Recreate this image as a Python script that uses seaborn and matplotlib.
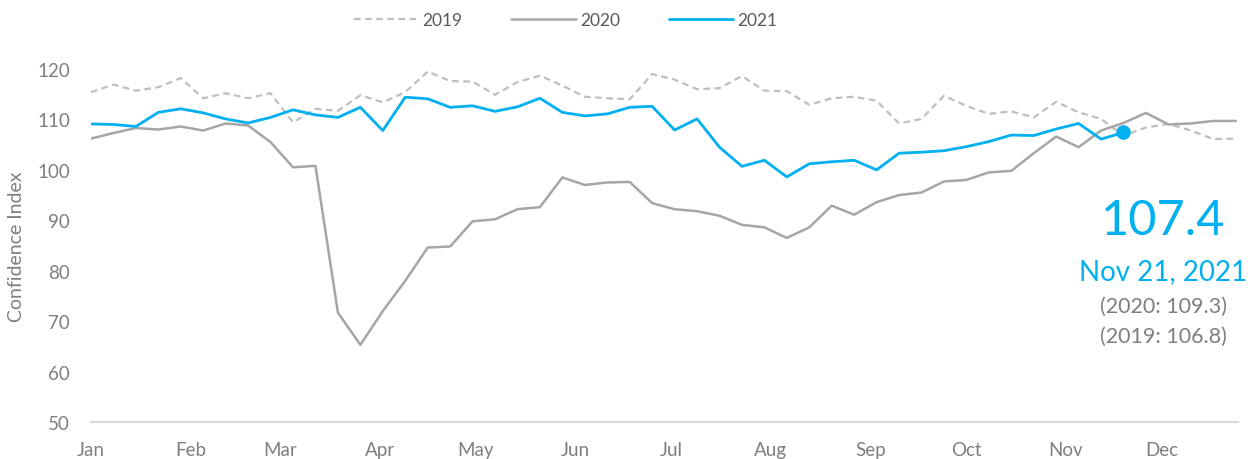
import matplotlib
matplotlib.use("Agg")
import matplotlib.pyplot as plt
import seaborn as sns
import numpy as np
import pandas as pd

# ---- data (weekly index values) ----
month_labels = ["Jan", "Feb", "Mar", "Apr", "May", "Jun", "Jul", "Aug", "Sep", "Oct", "Nov", "Dec"]
month_start_days = [0, 31, 59, 90, 120, 151, 181, 212, 243, 273, 304, 334]

values_2019 = [115.4, 116.9, 115.7, 116.4, 118.2, 114.2, 115.2, 114.2, 115.2, 109.4,
               112.1, 111.7, 114.8, 113.4, 115.4, 119.5, 117.6, 117.5, 114.9, 117.4,
               118.7, 116.7, 114.5, 114.2, 114.0, 119.0, 117.9, 116.0, 116.2, 118.6,
               115.7, 115.6, 112.9, 114.2, 114.5, 113.7, 109.2, 110.1, 114.7, 112.7,
               111.1, 111.6, 110.4, 113.5, 111.4, 110.1, 106.8, 108.4, 109.1, 107.8,
               106.1, 106.2]
values_2020 = [106.2, 107.3, 108.3, 108.0, 108.6, 107.8, 109.2, 108.8, 105.5, 100.5,
               100.8, 71.7, 65.3, 72.0, 78.0, 84.6, 84.8, 89.8, 90.2, 92.2,
               92.6, 98.5, 97.0, 97.5, 97.6, 93.4, 92.2, 91.8, 90.9, 89.1,
               88.6, 86.5, 88.6, 92.9, 91.1, 93.6, 95.0, 95.5, 97.7, 98.0,
               99.5, 99.8, 103.3, 106.6, 104.5, 107.8, 109.3, 111.3, 109.0, 109.2,
               109.7, 109.7]
values_2021 = [109.1, 109.0, 108.6, 111.4, 112.1, 111.3, 110.1, 109.3, 110.4, 111.9,
               110.9, 110.4, 112.4, 107.8, 114.4, 114.1, 112.4, 112.7, 111.6, 112.5,
               114.2, 111.4, 110.7, 111.1, 112.4, 112.6, 107.9, 110.1, 104.5, 100.7,
               101.9, 98.6, 101.2, 101.6, 101.9, 100.0, 103.3, 103.5, 103.8, 104.6,
               105.6, 106.9, 106.8, 108.1, 109.2, 106.1, 107.4]

latest_value = "107.4"
latest_date = "Nov 21, 2021"
compare_2020 = "(2020: 109.3)"
compare_2019 = "(2019: 106.8)"

days_per_week = 7

def frame(vals):
    return pd.DataFrame({"day": np.arange(len(vals)) * days_per_week, "value": vals})

df19, df20, df21 = frame(values_2019), frame(values_2020), frame(values_2021)

# ---- styling ----
sns.set_theme(style="white")
plt.rcParams["font.family"] = ["Lato", "DejaVu Sans"]

c19, c20, c21 = "#bfbfbf", "#a6a6a6", "#00b0f0"
txt_gray = "#7f7f7f"

W, H = 1257, 460
fig = plt.figure(figsize=(W / 100, H / 100), dpi=100)
ax = fig.add_axes([91 / W, (H - 423) / H, (1238 - 91) / W, (423 - 70) / H])

sns.lineplot(data=df19, x="day", y="value", ax=ax, color=c19, linewidth=1.6,
             linestyle=(0, (3, 2)), label="2019")
sns.lineplot(data=df20, x="day", y="value", ax=ax, color=c20, linewidth=1.8, label="2020")
sns.lineplot(data=df21, x="day", y="value", ax=ax, color=c21, linewidth=2.0, label="2021")
sns.scatterplot(data=df21.tail(1), x="day", y="value", ax=ax, color=c21, s=110,
                edgecolor="none", zorder=5, legend=False)

ax.set_xlim(0, 357.7)
ax.set_ylim(50, 120)
ax.set_yticks(np.arange(50, 121, 10))
ax.set_xticks(month_start_days)
ax.set_xticklabels(month_labels)

for s in ["top", "right", "left"]:
    ax.spines[s].set_visible(False)
ax.spines["bottom"].set_color("#d9d9d9")
ax.spines["bottom"].set_linewidth(1.5)

ax.tick_params(axis="x", colors="#d9d9d9", length=6, width=1.2, direction="out", pad=8,
               labelsize=13.5, labelcolor=txt_gray)
ax.tick_params(axis="y", length=0, pad=15, labelsize=13.5, labelcolor=txt_gray)

ax.set_xlabel("")
ax.set_ylabel("Confidence Index", fontsize=14, color=txt_gray)
ax.yaxis.set_label_coords(-0.0575, 0.5)

leg = ax.legend(loc="center left", bbox_to_anchor=(354 / W, 1 - 21 / H),
                bbox_transform=fig.transFigure, ncol=3, frameon=False, borderpad=0,
                borderaxespad=0, fontsize=12.5, handlelength=3.7, handletextpad=0.25,
                columnspacing=2.8)
for t in leg.get_texts():
    t.set_color("#595959")

cx = 1163 / W
fig.text(cx, 1 - 221 / H, latest_value, ha="center", va="center", fontsize=35, color=c21)
fig.text(cx, 1 - 272 / H, latest_date, ha="center", va="center", fontsize=20, color=c21)
fig.text(cx, 1 - 307 / H, compare_2020, ha="center", va="center", fontsize=15.5, color=txt_gray)
fig.text(cx, 1 - 337 / H, compare_2019, ha="center", va="center", fontsize=15.5, color=txt_gray)

fig.savefig("out.png", dpi=100)
